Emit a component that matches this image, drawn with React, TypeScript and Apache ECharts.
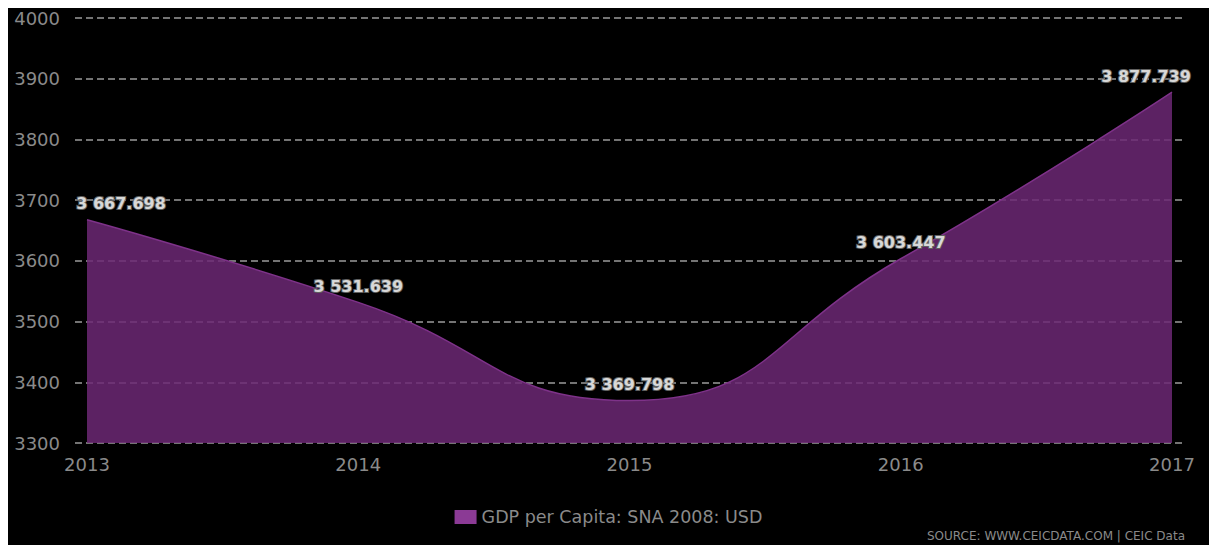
import React, { useEffect, useRef } from "react";
import * as echarts from "echarts";

const years = ["2013", "2014", "2015", "2016", "2017"];
const gdpValues = [3667.698, 3531.639, 3369.798, 3603.447, 3877.739];
const yTicks = [3300, 3400, 3500, 3600, 3700, 3800, 3900, 4000];
const seriesName = "GDP per Capita: SNA 2008: USD";
const sourceText = "SOURCE: WWW.CEICDATA.COM | CEIC Data";

const FONT = "DejaVu Sans";

function fmt(v: number): string {
  const [i, d] = v.toFixed(3).split(".");
  const withSpace = i.replace(/\B(?=(\d{3})+(?!\d))/g, " ");
  return withSpace + "." + d;
}

export default function App() {
  const ref = useRef<HTMLDivElement>(null);
  useEffect(() => {
    if (!ref.current) return;
    const chart = echarts.init(ref.current, null, { renderer: "svg" });
    const labelOffsets: Record<number, [number, number]> = {
      0: [34, 0],
      4: [-26, 0],
    };
    const data = gdpValues.map((v, i) => ({
      value: v,
      label: labelOffsets[i] ? { offset: labelOffsets[i] } : undefined,
    }));
    chart.setOption({
      animation: false,
      backgroundColor: "#000",
      textStyle: { fontFamily: FONT },
      grid: [
        { left: 67, right: 24, top: 10, bottom: 102, containLabel: false },
        { left: 79, right: 37, top: 10, bottom: 102, containLabel: false },
      ],
      xAxis: [
        {
          gridIndex: 0,
          type: "value",
          min: 0,
          max: 1,
          show: false,
        },
        {
          gridIndex: 1,
          type: "category",
          data: years,
          boundaryGap: false,
          axisLine: { show: false },
          axisTick: { show: false },
          axisLabel: {
            color: "#8a8a8a",
            fontSize: 18,
            fontFamily: FONT,
            margin: 12,
          },
        },
      ],
      yAxis: [
        {
          gridIndex: 0,
          type: "value",
          min: yTicks[0],
          max: yTicks[yTicks.length - 1],
          interval: 100,
          axisLine: { show: false },
          axisTick: { show: false },
          axisLabel: {
            color: "#8a8a8a",
            fontSize: 18,
            fontFamily: FONT,
            margin: 15,
            formatter: (v: number) => String(v),
          },
          splitLine: {
            show: true,
            lineStyle: { color: "#9a9a9a", width: 1.6, type: [7, 4] },
          },
        },
        {
          gridIndex: 1,
          type: "value",
          min: yTicks[0],
          max: yTicks[yTicks.length - 1],
          show: false,
          splitLine: { show: false },
        },
      ],
      legend: {
        show: true,
        left: "center",
        top: 495,
        icon: "rect",
        itemWidth: 22,
        itemHeight: 14,
        itemGap: 6,
        textStyle: { color: "#8a8a8a", fontSize: 17.5, fontFamily: FONT },
        data: [{ name: seriesName, itemStyle: { color: "#8b3a95", opacity: 1 } }],
      },
      graphic: [
        {
          type: "text",
          right: 24,
          bottom: 3,
          style: {
            text: sourceText,
            fill: "#8a8a8a",
            font: `12px "${FONT}"`,
          },
        },
      ],
      series: [
        {
          name: seriesName,
          type: "line",
          xAxisIndex: 1,
          yAxisIndex: 1,
          data,
          smooth: 0.5,
          symbol: "circle",
          symbolSize: 0,
          showSymbol: true,
          z: 1,
          lineStyle: { color: "#7e3289", width: 1.5 },
          itemStyle: { color: "#8b3a95" },
          areaStyle: { color: "#6c2874", opacity: 0.85, origin: "start" },
          label: {
            show: true,
            position: "top",
            distance: 8,
            formatter: (p: any) => fmt(p.value),
            color: "#d8d8d8",
            fontSize: 16,
            fontFamily: FONT,
            fontWeight: "bold",
            textBorderColor: "#606060",
            textBorderWidth: 2,
          },
        },
      ],
    });
    return () => chart.dispose();
  }, []);
  return (
    <div
      ref={ref}
      style={{
        position: "absolute",
        left: 8,
        top: 8,
        width: 1201,
        height: 537,
      }}
    />
  );
}
